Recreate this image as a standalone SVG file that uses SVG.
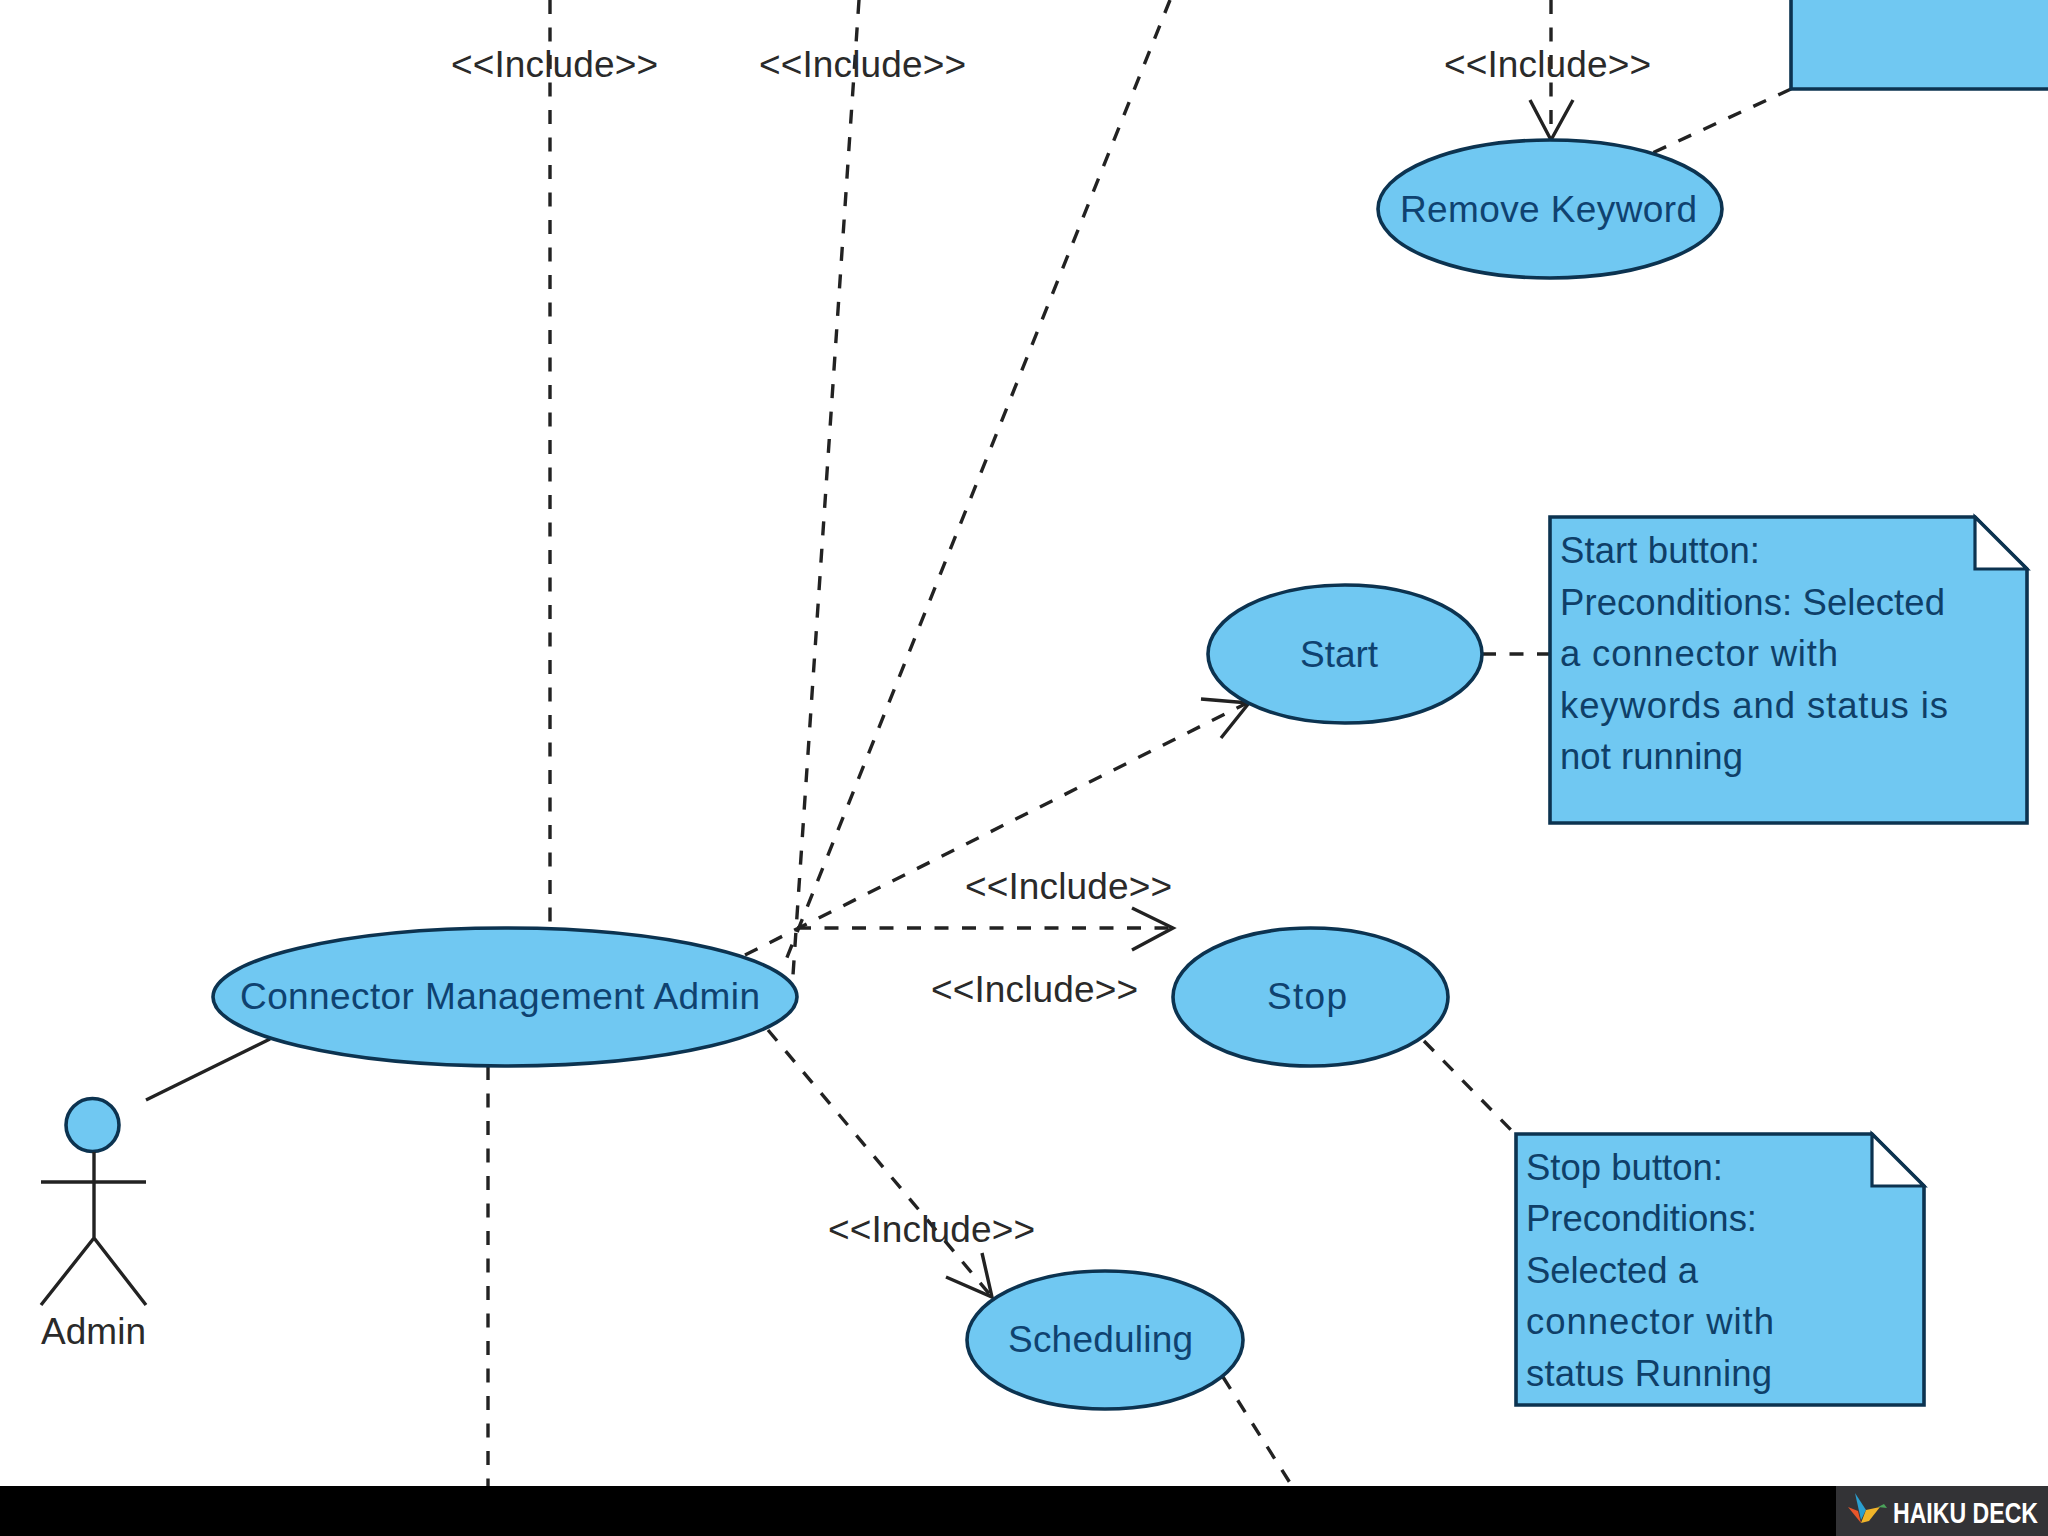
<svg xmlns="http://www.w3.org/2000/svg" width="2048" height="1536" viewBox="0 0 2048 1536">
<style>
.dash{fill:none;stroke:#222;stroke-width:3.4;stroke-dasharray:14 13.5}
.solid{fill:none;stroke:#222;stroke-width:3.4}
.shape{fill:#70c8f2;stroke:#0c3350;stroke-width:3.6}
.fold{fill:#fff;stroke:#0c3350;stroke-width:3.2}
text{font-family:"Liberation Sans",Arial,sans-serif;font-size:37px}
.node{fill:#0f4270;text-anchor:start}
.inc{fill:#2a2a2a}
.note{fill:#0f3f68;font-size:36.5px}
</style>
<rect width="2048" height="1536" fill="#fff"/>
<g id="connectors">
<path class="dash" d="M550 0V928"/>
<path class="dash" d="M859 0L793 975"/>
<path class="dash" d="M1170 0L782 970"/>
<path class="dash" d="M1551 0V140"/>
<path class="solid" d="M1530 100L1551 140L1573 100"/>
<path class="dash" d="M1791 89L1648 155"/>
<path class="dash" d="M745 955L1247 703"/>
<path class="solid" d="M1201 699L1249 703L1221 738"/>
<path class="dash" d="M797 928H1173"/>
<path class="solid" d="M1132 908L1173 928L1132 950"/>
<path class="dash" d="M768 1030L992 1297"/>
<path class="solid" d="M946 1277L992 1297L982 1253"/>
<path class="dash" d="M1482 654H1550"/>
<path class="dash" d="M1424 1041L1513 1132"/>
<path class="dash" d="M1223 1377L1292 1486"/>
<path class="dash" d="M488 1066V1486"/>
<path class="solid" d="M146 1100L270 1039"/>
</g>
<g id="uc-remove-keyword">
<ellipse class="shape" cx="1550" cy="209" rx="172" ry="69"/>
<text class="node" x="1400" y="222" textLength="297">Remove Keyword</text>
</g>
<g id="note-top">
<path class="shape" d="M1791 -5V89H2053V-5Z"/>
</g>
<g id="uc-start">
<ellipse class="shape" cx="1345" cy="654" rx="137" ry="69"/>
<text class="node" x="1300" y="667" textLength="78">Start</text>
</g>
<g id="note-start">
<path class="shape" d="M1550 517H1975L2027 569V823H1550Z"/>
<path class="fold" d="M1975 517L2027 569H1975Z"/>
<text class="note" x="1560" y="563" textLength="200">Start button:</text>
<text class="note" x="1560" y="615" textLength="385">Preconditions: Selected</text>
<text class="note" x="1560" y="666" textLength="278">a connector with</text>
<text class="note" x="1560" y="718" textLength="388">keywords and status is</text>
<text class="note" x="1560" y="769" textLength="183">not running</text>
</g>
<g id="uc-stop">
<ellipse class="shape" cx="1310.500" cy="997" rx="137.500" ry="69"/>
<text class="node" x="1267" y="1009" textLength="80">Stop</text>
</g>
<g id="note-stop">
<path class="shape" d="M1516 1134H1872L1924 1186V1405H1516Z"/>
<path class="fold" d="M1872 1134L1924 1186H1872Z"/>
<text class="note" x="1526" y="1180" textLength="197">Stop button:</text>
<text class="note" x="1526" y="1231" textLength="231">Preconditions:</text>
<text class="note" x="1526" y="1283" textLength="172">Selected a</text>
<text class="note" x="1526" y="1334" textLength="248">connector with</text>
<text class="note" x="1526" y="1386" textLength="246">status Running</text>
</g>
<g id="uc-connector-management-admin">
<ellipse class="shape" cx="505" cy="997" rx="292" ry="69"/>
<text class="node" x="240" y="1009" textLength="520">Connector Management Admin</text>
</g>
<g id="uc-scheduling">
<ellipse class="shape" cx="1105" cy="1340" rx="138" ry="69"/>
<text class="node" x="1008" y="1352" textLength="185">Scheduling</text>
</g>
<g id="actor-admin">
<circle class="shape" cx="92.500" cy="1125" r="26.500"/>
<path class="solid" d="M94 1152V1238M41 1182H146M41 1305L94 1238L146 1305"/>
<text fill="#2a2a2a" x="41" y="1344" textLength="105">Admin</text>
</g>
<g id="include-labels">
<text class="inc" x="451" y="77" textLength="207">&lt;&lt;Include&gt;&gt;</text>
<text class="inc" x="759" y="77" textLength="207">&lt;&lt;Include&gt;&gt;</text>
<text class="inc" x="1444" y="77" textLength="207">&lt;&lt;Include&gt;&gt;</text>
<text class="inc" x="965" y="899" textLength="207">&lt;&lt;Include&gt;&gt;</text>
<text class="inc" x="931" y="1002" textLength="207">&lt;&lt;Include&gt;&gt;</text>
<text class="inc" x="828" y="1242" textLength="207">&lt;&lt;Include&gt;&gt;</text>
</g>
<g id="footer">
<rect x="0" y="1486" width="2048" height="50" fill="#000"/>
<rect x="1836" y="1486" width="212" height="50" fill="#333336"/>
<polygon points="1848,1507 1858,1511 1861,1523" fill="#e8562a"/>
<polygon points="1855,1493 1866,1510 1861,1520" fill="#2a9fd0"/>
<polygon points="1866,1510 1880,1507 1869,1521 1861,1523" fill="#f0b429"/>
<polygon points="1878,1507 1884,1504 1887,1508" fill="#4aa35a"/>
<text x="1893" y="1523" textLength="145" lengthAdjust="spacingAndGlyphs" style="font-family:'Liberation Sans',sans-serif;font-weight:700;font-size:29px" fill="#fff">HAIKU DECK</text>
</g>
</svg>
